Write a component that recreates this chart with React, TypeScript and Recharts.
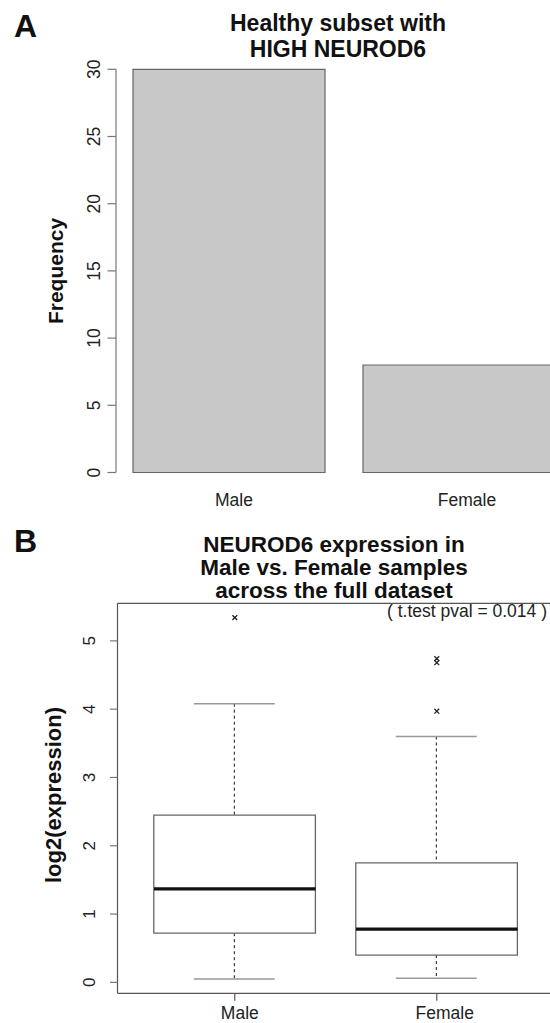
import React from 'react';
import { BarChart, Bar, XAxis, YAxis, ComposedChart, Scatter, ReferenceLine } from 'recharts';

const FONT = '"Liberation Sans", Arial, Helvetica, sans-serif';

// ---------- Panel A data ----------
const freqCategories = ['Male', 'Female'];
const freqValues = [30, 8];
const freqTicks = [0, 5, 10, 15, 20, 25, 30];
const freqDomain = [0, 30];

// ---------- Panel B data ----------
const boxCategories = ['Male', 'Female'];
const boxMin = [0.05, 0.06];
const boxQ1 = [0.72, 0.4];
const boxMedian = [1.37, 0.78];
const boxQ3 = [2.45, 1.75];
const boxMax = [4.08, 3.6];
const boxOutliers = [[5.34], [4.74, 4.68, 3.97]];
const exprTicks = [0, 1, 2, 3, 4, 5];
const exprDomain = [-0.16, 5.55];
const pvalText = '( t.test pval = 0.014 )';

const freqData = freqCategories.map((c, i) => ({ sex: c, count: freqValues[i] }));
const boxData = boxCategories.map((c, i) => ({
  sex: c,
  box: [boxQ1[i], boxQ3[i]],
  lowW: [boxMin[i], boxQ1[i]],
  highW: [boxQ3[i], boxMax[i]],
  median: boxMedian[i],
  out0: boxOutliers[i][0] ?? null,
  out1: boxOutliers[i][1] ?? null,
  out2: boxOutliers[i][2] ?? null,
}));

const LABEL_DX = [5, 8];
const BOX_HALF = 80.8;

const CatTickA = (props: any) => {
  const { x, y, payload, index } = props;
  return (
    <text x={x + (LABEL_DX[index] || 0)} y={y} dy={33.5} textAnchor="middle" fontSize={17.5} fill="#222" fontFamily={FONT}>
      {payload.value}
    </text>
  );
};

const CatTickB = (props: any) => {
  const { x, y, payload, index } = props;
  return (
    <text x={x + (LABEL_DX[index] || 0)} y={y} dy={18.2} textAnchor="middle" fontSize={17.5} fill="#222" fontFamily={FONT}>
      {payload.value}
    </text>
  );
};

const makeYTick = (bx: number, fs: number) => (props: any) => {
  const { y, payload } = props;
  return (
    <text x={bx} y={y} transform={`rotate(-90, ${bx}, ${y})`} textAnchor="middle" fontSize={fs} fill="#222" fontFamily={FONT}>
      {payload.value}
    </text>
  );
};
const yTickA = makeYTick(100, 17.5);
const yTickB = makeYTick(95, 17);

const LowerWhisker = (p: any) => {
  const { x, y, width, height } = p;
  const cx = x + width / 2;
  const top = Math.min(y, y + height);
  const bot = Math.max(y, y + height);
  return (
    <g>
      <line x1={cx} x2={cx} y1={top} y2={bot} stroke="#111" strokeWidth={1} strokeDasharray="3 3" />
      <line x1={x} x2={x + width} y1={bot} y2={bot} stroke="#999" strokeWidth={1.6} />
    </g>
  );
};

const UpperWhisker = (p: any) => {
  const { x, y, width, height } = p;
  const cx = x + width / 2;
  const top = Math.min(y, y + height);
  const bot = Math.max(y, y + height);
  return (
    <g>
      <line x1={cx} x2={cx} y1={top} y2={bot} stroke="#111" strokeWidth={1} strokeDasharray="3 3" />
      <line x1={x} x2={x + width} y1={top} y2={top} stroke="#999" strokeWidth={1.6} />
    </g>
  );
};

const MedianShape = (p: any) => {
  const { cx, cy } = p;
  return <line x1={cx - BOX_HALF} x2={cx + BOX_HALF} y1={cy} y2={cy} stroke="#111" strokeWidth={3.2} />;
};

const makeOutlier = (key: string) => (p: any) => {
  const { cx, cy, payload } = p;
  if (!payload || payload[key] == null) return <g />;
  const s = 2.4;
  return (
    <g stroke="#222" strokeWidth={1.3}>
      <line x1={cx - s} x2={cx + s} y1={cy - s} y2={cy + s} />
      <line x1={cx - s} x2={cx + s} y1={cy + s} y2={cy - s} />
    </g>
  );
};

const padB = { left: 16.3, right: 16.2 };

export default function App() {
  return (
    <div style={{ position: 'absolute', left: 0, top: 0, width: 550, height: 1023, overflow: 'hidden', background: '#fff' }}>
      <div style={{ position: 'absolute', left: 0, top: 0 }}>
        <BarChart width={600} height={520} data={freqData} margin={{ top: 69.3, right: 24, bottom: 17.5, left: 56 }} barSize={192}>
          <XAxis
            dataKey="sex"
            type="category"
            axisLine={false}
            tickLine={false}
            tickSize={0}
            tickMargin={0}
            height={30}
            padding={{ left: -2, right: 2 }}
            tick={CatTickA}
            interval={0}
          />
          <YAxis
            type="number"
            domain={freqDomain}
            ticks={freqTicks}
            width={60}
            tickSize={8.5}
            tickMargin={0}
            axisLine={{ stroke: '#777', strokeWidth: 1.2 }}
            tickLine={{ stroke: '#777', strokeWidth: 1.2 }}
            tick={yTickA}
            interval={0}
          />
          <Bar dataKey="count" fill="#c8c8c8" stroke="#666" strokeWidth={1.2} isAnimationActive={false} />
        </BarChart>
      </div>

      <div style={{ position: 'absolute', left: 0, top: 560 }}>
        <ComposedChart width={600} height={463} data={boxData} margin={{ top: 43.3, right: 46, bottom: 0, left: 57.5 }}>
          <XAxis
            xAxisId="main"
            dataKey="sex"
            type="category"
            padding={padB}
            height={29.7}
            tickSize={7.5}
            tickMargin={0}
            axisLine={{ stroke: '#555', strokeWidth: 1.2 }}
            tickLine={{ stroke: '#555', strokeWidth: 1.2 }}
            tick={CatTickB}
            interval={0}
          />
          <XAxis xAxisId="lo" dataKey="sex" type="category" padding={padB} height={0} hide />
          <XAxis xAxisId="hi" dataKey="sex" type="category" padding={padB} height={0} hide />
          <YAxis
            type="number"
            domain={exprDomain}
            ticks={exprTicks}
            allowDataOverflow
            width={60}
            tickSize={7.5}
            tickMargin={0}
            axisLine={{ stroke: '#555', strokeWidth: 1.2 }}
            tickLine={{ stroke: '#777', strokeWidth: 1.2 }}
            tick={yTickB}
            interval={0}
          />
          <ReferenceLine xAxisId="main" y={exprDomain[1]} stroke="#555" strokeWidth={1.2} ifOverflow="extendDomain" />
          <Bar xAxisId="lo" dataKey="lowW" barSize={81} shape={LowerWhisker} isAnimationActive={false} />
          <Bar xAxisId="hi" dataKey="highW" barSize={81} shape={UpperWhisker} isAnimationActive={false} />
          <Bar xAxisId="main" dataKey="box" barSize={161.6} fill="#fff" stroke="#666" strokeWidth={1.3} isAnimationActive={false} />
          <Scatter xAxisId="main" dataKey="median" shape={MedianShape} isAnimationActive={false} />
          <Scatter xAxisId="main" dataKey="out0" shape={makeOutlier('out0')} isAnimationActive={false} />
          <Scatter xAxisId="main" dataKey="out1" shape={makeOutlier('out1')} isAnimationActive={false} />
          <Scatter xAxisId="main" dataKey="out2" shape={makeOutlier('out2')} isAnimationActive={false} />
        </ComposedChart>
      </div>

      <svg width={550} height={1023} style={{ position: 'absolute', left: 0, top: 0, pointerEvents: 'none' }} fontFamily={FONT}>
        <text x={14} y={37} fontSize={32} fontWeight="bold" fill="#111">A</text>
        <text x={338} y={30.7} fontSize={23} fontWeight="bold" fill="#111" textAnchor="middle">Healthy subset with</text>
        <text x={338} y={56.7} fontSize={23} fontWeight="bold" fill="#111" textAnchor="middle">HIGH NEUROD6</text>
        <text x={63} y={271} transform="rotate(-90, 63, 271)" fontSize={21} fontWeight="bold" fill="#111" textAnchor="middle">Frequency</text>

        <text x={14} y={552} fontSize={32} fontWeight="bold" fill="#111">B</text>
        <text x={334} y={551.5} fontSize={22.5} fontWeight="bold" fill="#111" textAnchor="middle">NEUROD6 expression in</text>
        <text x={334} y={574.5} fontSize={22.5} fontWeight="bold" fill="#111" textAnchor="middle">Male vs. Female samples</text>
        <text x={334} y={597.5} fontSize={22.5} fontWeight="bold" fill="#111" textAnchor="middle">across the full dataset</text>
        <text x={61} y={795} transform="rotate(-90, 61, 795)" fontSize={22} fontWeight="bold" fill="#111" textAnchor="middle">log2(expression)</text>
        <text x={387} y={617} fontSize={17.5} fill="#222">{pvalText}</text>
      </svg>
    </div>
  );
}
